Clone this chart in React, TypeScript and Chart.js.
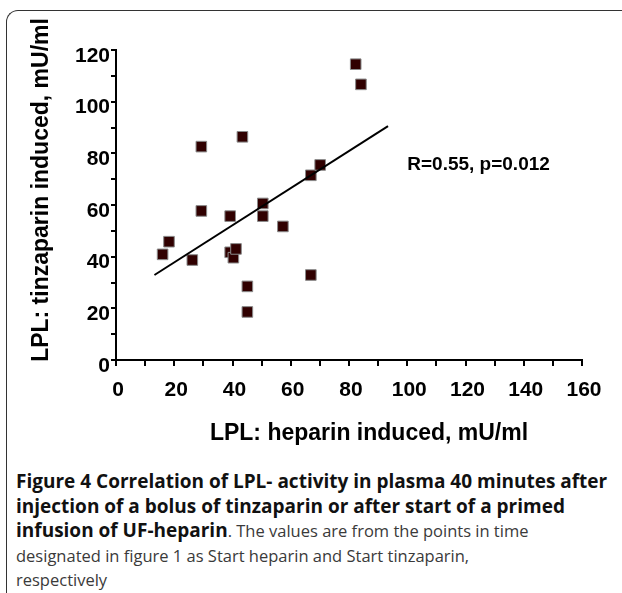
import React, { useEffect, useRef } from 'react';
import { Chart, registerables } from 'chart.js';

Chart.register(...registerables);

// LPL heparin induced (x) vs tinzaparin induced (y), mU/ml
const heparinX = [16.0, 18.2, 26.2, 29.3, 29.3, 39.2, 39.2, 40.3, 41.2, 43.4, 45.1, 45.1, 50.4, 50.4, 57.3, 66.9, 70.1, 66.9, 82.3, 84.1];
const tinzaparinY = [40.9, 45.8, 38.7, 82.6, 57.7, 55.7, 41.7, 39.6, 43.0, 86.4, 28.5, 18.6, 60.6, 55.7, 51.7, 71.5, 75.5, 32.9, 114.5, 106.7];

// Regression line endpoints as drawn
const trendX = [13.2, 93.4];
const trendY = [32.9, 90.5];

const xMin = 0;
const xMax = 160;
const yMin = 0;
const yMax = 120;
const majorStep = 20;
const minorStep = 10;

const xTitle = 'LPL: heparin induced, mU/ml';
const yTitle = 'LPL: tinzaparin induced, mU/ml';
const statText = 'R=0.55, p=0.012';
const statAt = [100, 75.5];

const FONT = '"Liberation Sans", Arial, sans-serif';

const titlesPlugin = {
  id: 'customTitles',
  afterDraw(chart: any) {
    const ctx = chart.ctx;
    ctx.save();
    ctx.fillStyle = '#000';
    ctx.font = `bold 23px ${FONT}`;
    ctx.textAlign = 'center';
    ctx.textBaseline = 'middle';
    ctx.fillText(xTitle, 369, 434);
    ctx.save();
    ctx.translate(42, 190);
    ctx.rotate(-Math.PI / 2);
    ctx.fillText(yTitle, 0, 0);
    ctx.restore();
    ctx.font = `bold 19px ${FONT}`;
    ctx.textAlign = 'left';
    const sx = chart.scales.x.getPixelForValue(statAt[0]);
    const sy = chart.scales.y.getPixelForValue(statAt[1]);
    ctx.fillText(statText, sx, sy);
    ctx.restore();
  },
};

function ScatterChart() {
  const ref = useRef<HTMLCanvasElement>(null);
  useEffect(() => {
    if (!ref.current) return;
    const tickFont = { family: FONT, size: 21, weight: 'bold' as const };
    const chart = new Chart(ref.current, {
      type: 'scatter',
      data: {
        datasets: [
          {
            type: 'line',
            data: trendX.map((x, i) => ({ x, y: trendY[i] })),
            borderColor: '#000',
            borderWidth: 2,
            pointRadius: 0,
            fill: false,
          } as any,
          {
            data: heparinX.map((x, i) => ({ x, y: tinzaparinY[i] })),
            pointStyle: 'rect',
            pointRadius: 7.5,
            backgroundColor: '#300000',
            borderColor: '#8a8a8a',
            borderWidth: 1,
          },
        ],
      },
      options: {
        animation: false,
        responsive: false,
        devicePixelRatio: 1,
        layout: { padding: { top: 50, right: 40, left: 0, bottom: 0 } },
        plugins: { legend: { display: false }, tooltip: { enabled: false } },
        scales: {
          x: {
            type: 'linear',
            min: xMin,
            max: xMax,
            ticks: {
              stepSize: minorStep,
              autoSkip: false,
              maxRotation: 0,
              padding: 12,
              labelOffset: 2,
              color: '#000',
              font: tickFont,
              callback: (v: any) => (Number(v) % majorStep === 0 ? String(v) : ''),
            },
            grid: { drawOnChartArea: false, drawTicks: true, tickLength: 6, color: '#000', lineWidth: 2 },
            border: { display: true, color: '#000', width: 2 },
            afterFit: (s: any) => {
              s.height = 90;
              s.paddingLeft = 0;
              s.paddingRight = 0;
            },
          },
          y: {
            type: 'linear',
            min: yMin,
            max: yMax,
            ticks: {
              stepSize: minorStep,
              autoSkip: false,
              padding: 1,
              labelOffset: 6,
              color: '#000',
              font: tickFont,
              callback: (v: any) => (Number(v) % majorStep === 0 ? String(v) : ''),
            },
            grid: { drawOnChartArea: false, drawTicks: true, tickLength: 5, color: '#000', lineWidth: 2 },
            border: { display: true, color: '#000', width: 2 },
            afterFit: (s: any) => {
              s.width = 116;
              s.paddingTop = 0;
              s.paddingBottom = 0;
            },
          },
        },
      },
      plugins: [titlesPlugin],
    });
    return () => chart.destroy();
  }, []);
  return <canvas ref={ref} width={622} height={450} style={{ position: 'absolute', left: 0, top: 0 }} />;
}

const boldStyle: React.CSSProperties = { fontWeight: 'bold', color: '#111', fontSize: 19 };
const regStyle: React.CSSProperties = { fontWeight: 'normal', color: '#3a3a3a', fontSize: 16.5 };

export default function App() {
  return (
    <div style={{ position: 'absolute', left: 0, top: 0, width: 622, height: 593, background: '#fff', overflow: 'hidden' }}>
      <div
        style={{
          position: 'absolute',
          left: 6,
          top: 10,
          width: 700,
          height: 700,
          borderLeft: '1.5px solid #333',
          borderTop: '1.5px solid #333',
          borderTopLeftRadius: 12,
        }}
      />
      <ScatterChart />
      <div
        style={{
          position: 'absolute',
          left: 16,
          top: 469,
          whiteSpace: 'nowrap',
          fontFamily: '"Open Sans", sans-serif',
          lineHeight: '24.5px',
        }}
      >
        <div style={boldStyle}>Figure 4 Correlation of LPL- activity in plasma 40 minutes after</div>
        <div style={boldStyle}>injection of a bolus of tinzaparin or after start of a primed</div>
        <div>
          <span style={boldStyle}>infusion of UF-heparin</span>
          <span style={regStyle}>. The values are from the points in time</span>
        </div>
        <div style={regStyle}>designated in figure 1 as Start heparin and Start tinzaparin,</div>
        <div style={regStyle}>respectively</div>
      </div>
    </div>
  );
}
